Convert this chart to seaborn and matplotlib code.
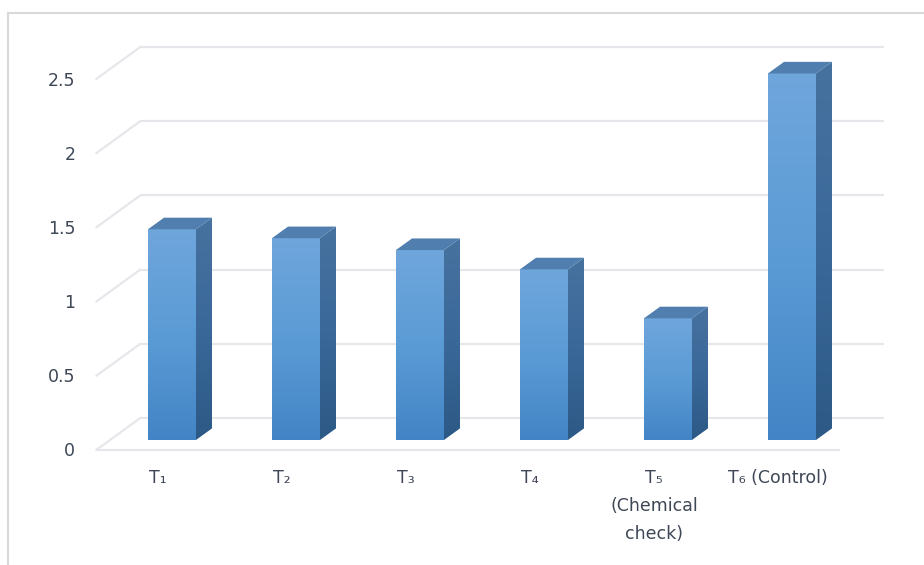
import numpy as np
import pandas as pd
import seaborn as sns
import matplotlib.pyplot as plt
from matplotlib.patches import Polygon
from matplotlib.colors import LinearSegmentedColormap
from matplotlib.lines import Line2D

# Data
treatments = ["T\u2081", "T\u2082", "T\u2083", "T\u2084",
              "T\u2085\n(Chemical\ncheck)", "T\u2086 (Control)"]
values = [1.42, 1.36, 1.28, 1.15, 0.82, 2.47]
y_ticks = [0, 0.5, 1, 1.5, 2, 2.5]
y_tick_labels = ["0", "0.5", "1", "1.5", "2", "2.5"]

sns.set_theme(style="white")
plt.rcParams["font.family"] = ["DejaVu Sans"]

W, H = 924, 565
fig = plt.figure(figsize=(W / 100, H / 100), dpi=100)
fig.patch.set_facecolor("white")
ax = fig.add_axes([0, 0, 1, 1])

df = pd.DataFrame({"treatment": treatments, "value": values})
sns.barplot(data=df, x="treatment", y="value", width=0.387,
            color="#5b9bd5", saturation=1, ax=ax, zorder=3, errorbar=None)
bars = list(ax.patches)

# one category step = 124 px, one value unit = 148.4 px
ax.set_xlim(-172 / 124, (W - 172) / 124)
ax.set_ylim(-(H - 440) / 148.4, 440 / 148.4)
ax.axis("off")


def px(dx, dy):
    """Pixel offset (right, up) expressed in data units."""
    inv = ax.transData.inverted()
    a = inv.transform((0, 0))
    b = inv.transform((dx, dy))
    return b - a


FRONT = px(-13.75, -10)   # front edge of the floor
BACK = px(30.25, 22)      # back wall
DEPTH = px(16, 11.6)      # bar depth

grid_c = "#e5e7eb"
text_c = "#3e4756"
x_left, x_right = -0.5, 5.5

# back wall gridlines and side-wall diagonals
for v in y_ticks:
    ax.plot([x_left + BACK[0], x_right + BACK[0]], [v + BACK[1]] * 2,
            color=grid_c, lw=1.6, zorder=1, solid_capstyle="butt")
    ax.plot([x_left + FRONT[0], x_left + BACK[0]],
            [v + FRONT[1], v + BACK[1]],
            color=grid_c, lw=1.6, zorder=1)
# front edge of the floor
ax.plot([x_left + FRONT[0], x_right + FRONT[0]], [FRONT[1]] * 2,
        color=grid_c, lw=1.6, zorder=1, solid_capstyle="butt")

front_cmap = LinearSegmentedColormap.from_list("front", ["#4384c6", "#5b9bd5", "#6fa6dc"])
side_cmap = LinearSegmentedColormap.from_list("side", ["#2c5985", "#3a6899", "#46729f"])
grad = np.linspace(0, 1, 256).reshape(-1, 1)

for bar in bars:
    x0, w, h = bar.get_x(), bar.get_width(), bar.get_height()
    x1 = x0 + w
    bar.set_facecolor("none")
    bar.set_edgecolor("none")
    # front face
    im = ax.imshow(grad, extent=[x0, x1, 0, h], origin="lower",
                   aspect="auto", cmap=front_cmap, zorder=3,
                   interpolation="bilinear")
    im.set_clip_path(bar)
    # side face
    side = Polygon([(x1, 0), (x1, h), (x1 + DEPTH[0], h + DEPTH[1]),
                    (x1 + DEPTH[0], DEPTH[1])], closed=True,
                   facecolor="none", edgecolor="none", zorder=3)
    ax.add_patch(side)
    im2 = ax.imshow(grad, extent=[x1, x1 + DEPTH[0], 0, h + DEPTH[1]],
                    origin="lower", aspect="auto", cmap=side_cmap, zorder=3,
                    interpolation="bilinear")
    im2.set_clip_path(side)
    # top face
    ax.add_patch(Polygon([(x0, h), (x1, h), (x1 + DEPTH[0], h + DEPTH[1]),
                          (x0 + DEPTH[0], h + DEPTH[1])], closed=True,
                         facecolor="#4f7eaf", edgecolor="none", zorder=3))

ax.set_xlim(-172 / 124, (W - 172) / 124)
ax.set_ylim(-(H - 440) / 148.4, 440 / 148.4)

# value axis labels
lab_dx = px(-21, 0)[0]
lab_dy = px(0, -1.5)[1]
for v, lab in zip(y_ticks, y_tick_labels):
    ax.text(x_left + FRONT[0] + lab_dx, v + FRONT[1] + lab_dy, lab, ha="right",
            va="center", fontsize=12.5, color=text_c)

# category labels
y_top = ax.transData.inverted().transform((0, H - 469))[1]
for i, lab in enumerate(treatments):
    ax.text(i + FRONT[0], y_top, lab, ha="center", va="top",
            fontsize=12.5, color=text_c, linespacing=1.72)

# chart frame
frame_c = "#d9d9d9"
fig.add_artist(Line2D([8 / W, 1], [1 - 13 / H] * 2, transform=fig.transFigure,
                      color=frame_c, lw=1.5))
fig.add_artist(Line2D([8 / W, 8 / W], [0, 1 - 13 / H], transform=fig.transFigure,
                      color=frame_c, lw=1.5))

fig.savefig("out.png", dpi=100, facecolor="white")
